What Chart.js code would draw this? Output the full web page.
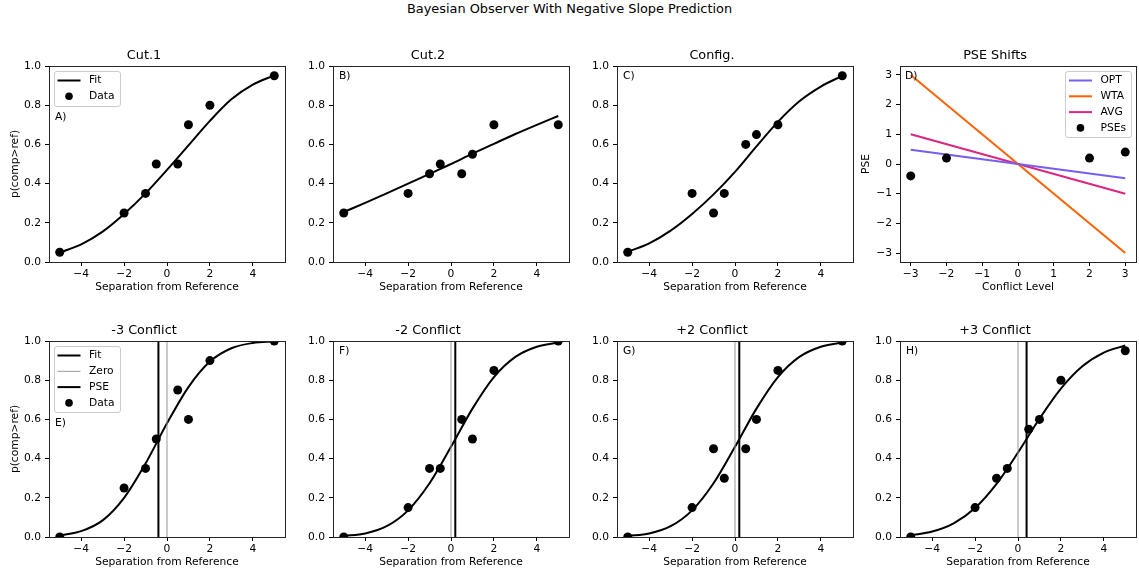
<!DOCTYPE html>
<html>
<head>
<meta charset="utf-8">
<title>Bayesian Observer With Negative Slope Prediction</title>
<script src="https://cdn.jsdelivr.net/npm/chart.js@4.4.1/dist/chart.umd.min.js"></script>
<style>
  body { margin: 0; background: #fff; width: 1139px; height: 573px; overflow: hidden; position: relative; font-family: 'DejaVu Sans', sans-serif; }
  #suptitle { position: absolute; left: 0; top: 1px; width: 1139px; text-align: center; font-size: 12.9px; line-height: 16px; color: #000; }
  canvas { position: absolute; }
</style>
</head>
<body>
<div id="suptitle">Bayesian Observer With Negative Slope Prediction</div>
<script>
// separation levels and the x grid the fitted curves are sampled on
const sepX = [-5, -2, -1, -0.5, 0.5, 1, 2, 5];
const fitX = [-5, -4, -3, -2, -1, 0, 1, 2, 3, 4, 5];
const sepTicks = [-4, -2, 0, 2, 4];
const probTicks = [0, 0.2, 0.4, 0.6, 0.8, 1];
const probRange = [0, 1];

// single-cue and configural conditions
const cut1Data = [0.05, 0.25, 0.35, 0.5, 0.5, 0.7, 0.8, 0.95];
const cut1Fit = [0.048, 0.09, 0.155, 0.245, 0.35, 0.47, 0.595, 0.72, 0.83, 0.905, 0.952];
const cut2Data = [0.25, 0.35, 0.45, 0.5, 0.45, 0.55, 0.7, 0.7];
const cut2Fit = [0.255, 0.302, 0.35, 0.40, 0.45, 0.50, 0.553, 0.603, 0.653, 0.70, 0.745];
const configData = [0.05, 0.35, 0.25, 0.35, 0.6, 0.65, 0.7, 0.95];
const configFit = [0.052, 0.095, 0.16, 0.245, 0.345, 0.46, 0.59, 0.715, 0.82, 0.895, 0.95];

// conflict conditions
const negThreeData = [0.0, 0.25, 0.35, 0.5, 0.75, 0.6, 0.9, 1.0];
const negThreeFit = [0.008, 0.03, 0.085, 0.20, 0.375, 0.58, 0.765, 0.895, 0.963, 0.99, 0.998];
const negTwoData = [0.0, 0.15, 0.35, 0.35, 0.6, 0.5, 0.85, 1.0];
const negTwoFit = [0.005, 0.018, 0.055, 0.136, 0.274, 0.46, 0.655, 0.816, 0.919, 0.971, 0.992];
const posTwoData = [0.0, 0.15, 0.45, 0.3, 0.45, 0.6, 0.85, 1.0];
const posTwoFit = [0.005, 0.018, 0.055, 0.136, 0.274, 0.46, 0.655, 0.816, 0.919, 0.971, 0.992];
const posThreeData = [0.0, 0.15, 0.3, 0.35, 0.55, 0.6, 0.8, 0.95];
const posThreeFit = [0.009, 0.028, 0.07, 0.148, 0.271, 0.431, 0.603, 0.757, 0.871, 0.941, 0.977];

// PSE shifts vs model predictions
const conflictLevels = [-3, -2, 2, 3];
const pseValues = [-0.4, 0.2, 0.2, 0.4];
const modelX = [-3, 3];
const optPred = [0.48, -0.48];
const wtaPred = [3, -3];
const avgPred = [1, -1];
const conflictTicks = [-3, -2, -1, 0, 1, 2, 3];
const pseTicks = [-3, -2, -1, 0, 1, 2, 3];

const FONT = "'DejaVu Sans', sans-serif";
const SMALL = 10.7, BIG = 12.8;
const AX_W = 236, AX_H = 196;
const Y_AXIS_W = 46, X_AXIS_H = 36, TITLE_H = 24, PAD_R = 8;

Chart.defaults.font.family = FONT;
Chart.defaults.font.size = SMALL;
Chart.defaults.color = '#000';
Chart.defaults.animation = false;
Chart.defaults.events = [];
Chart.defaults.plugins.legend.display = false;
Chart.defaults.plugins.tooltip.enabled = false;

const px = v => Math.round(v - 0.5) + 0.5;

// box around the plotting area (all four spines)
Chart.register({
  id: 'axesFrame',
  afterDraw(chart) {
    const { ctx, chartArea: a } = chart;
    ctx.save();
    ctx.strokeStyle = '#262626';
    ctx.lineWidth = 1;
    ctx.strokeRect(px(a.left), px(a.top), px(a.right) - px(a.left), px(a.bottom) - px(a.top));
    ctx.restore();
  }
});

// "A)", "B)" ... letters inside each panel
Chart.register({
  id: 'panelTag',
  afterDraw(chart, args, opts) {
    if (!opts.text) return;
    const { ctx, chartArea: a } = chart;
    ctx.save();
    ctx.font = SMALL + 'px ' + FONT;
    ctx.fillStyle = '#000';
    ctx.textAlign = 'left';
    ctx.textBaseline = 'middle';
    ctx.fillText(opts.text, a.left + opts.dx, a.top + opts.dy);
    ctx.restore();
  }
});

// framed legend in a corner of the plotting area
Chart.register({
  id: 'boxLegend',
  afterDraw(chart, args, opts) {
    if (!opts.corner) return;
    const { ctx, chartArea: a } = chart;
    const items = chart.data.datasets;
    ctx.save();
    ctx.font = SMALL + 'px ' + FONT;
    const textW = Math.max(...items.map(d => ctx.measureText(d.label).width));
    const rowH = 15.8, padY = 9.5, handle = 23;
    const w = 3.5 + handle + 8.5 + textW + 5;
    const h = padY * 2 + rowH * (items.length - 1);
    const x = opts.corner === 'right' ? a.right - 5 - w : a.left + 5;
    const y = a.top + 5;
    ctx.beginPath();
    if (ctx.roundRect) ctx.roundRect(Math.round(x) + 0.5, Math.round(y) + 0.5, Math.round(w), Math.round(h), 2.5);
    else ctx.rect(Math.round(x) + 0.5, Math.round(y) + 0.5, Math.round(w), Math.round(h));
    ctx.fillStyle = 'rgba(255,255,255,0.8)';
    ctx.fill();
    ctx.strokeStyle = '#cccccc';
    ctx.lineWidth = 1;
    ctx.stroke();
    items.forEach((d, i) => {
      const cy = y + padY + i * rowH;
      const hx = x + 3.5;
      if (d.showLine) {
        ctx.beginPath();
        ctx.moveTo(hx, cy);
        ctx.lineTo(hx + handle, cy);
        ctx.strokeStyle = d.borderColor;
        ctx.lineWidth = d.borderWidth;
        ctx.stroke();
      } else {
        ctx.beginPath();
        ctx.arc(hx + handle / 2, cy, 3.8, 0, Math.PI * 2);
        ctx.fillStyle = d.pointBackgroundColor;
        ctx.fill();
      }
      ctx.fillStyle = '#000';
      ctx.textAlign = 'left';
      ctx.textBaseline = 'middle';
      ctx.fillText(d.label, hx + handle + 8.5, cy);
    });
    ctx.restore();
  }
});

const xy = (xs, ys) => xs.map((x, i) => ({ x: x, y: ys[i] }));
const minus = v => (v < 0 ? '\u2212' + (-v) : String(v));

function axis(pos, min, max, ticks, fmt, title) {
  const left = pos === 'left';
  return {
    type: 'linear',
    position: pos,
    min: min,
    max: max,
    afterBuildTicks: s => { s.ticks = ticks.map(v => ({ value: v })); },
    afterFit: s => { if (left) s.width = Y_AXIS_W; else s.height = X_AXIS_H; },
    ticks: { callback: fmt, color: '#000', font: { size: SMALL }, padding: left ? 4 : 2, maxRotation: 0, autoSkip: false },
    grid: { display: true, drawOnChartArea: false, drawTicks: true, tickLength: 4, tickColor: '#000', tickWidth: 1 },
    border: { display: false },
    title: title
      ? { display: true, text: title, color: '#000', font: { size: SMALL }, padding: left ? { top: 5.5, bottom: 0 } : { top: 0, bottom: 4 } }
      : { display: false }
  };
}

function mount(axLeft, axTop, config) {
  const c = document.createElement('canvas');
  c.width = Y_AXIS_W + AX_W + PAD_R;
  c.height = TITLE_H + AX_H + X_AXIS_H;
  c.style.left = (axLeft - Y_AXIS_W) + 'px';
  c.style.top = (axTop - TITLE_H) + 'px';
  document.body.appendChild(c);
  config.options.responsive = false;
  config.options.devicePixelRatio = 1;
  config.options.layout = { padding: { left: 0, right: PAD_R, top: 0, bottom: 0 } };
  config.options.plugins.title = {
    display: true, text: config.title, color: '#000',
    font: { size: BIG, weight: 'normal', lineHeight: 1.25 }, padding: { top: 6, bottom: 2 }
  };
  return new Chart(c, config);
}

function sepPanel(p) {
  const datasets = [{
    label: 'Fit', data: xy(fitX, p.fit), showLine: true, borderColor: '#000', borderWidth: 2,
    pointRadius: 0, cubicInterpolationMode: 'monotone', clip: 0, order: 3
  }];
  if (p.pse !== undefined) {
    datasets.push({
      label: 'Zero', data: xy([0, 0], probRange), showLine: true, borderColor: '#999999', borderWidth: 1,
      pointRadius: 0, clip: 0, order: 2
    });
    datasets.push({
      label: 'PSE', data: xy([p.pse, p.pse], probRange), showLine: true, borderColor: '#000', borderWidth: 2,
      pointRadius: 0, clip: 0, order: 1
    });
  }
  datasets.push({
    label: 'Data', data: xy(sepX, p.data), pointRadius: 4.5, pointBackgroundColor: '#000',
    pointBorderWidth: 0, clip: 0, order: 0
  });
  mount(p.left, p.top, {
    type: 'scatter',
    title: p.title,
    data: { datasets: datasets },
    options: {
      scales: {
        x: axis('bottom', -5.5, 5.5, sepTicks, minus, 'Separation from Reference'),
        y: axis('left', 0, 1, probTicks, v => v.toFixed(1), p.yTitle ? 'p(comp>ref)' : null)
      },
      plugins: {
        panelTag: { text: p.tag, dx: 6, dy: p.tagDy },
        boxLegend: { corner: p.legend }
      }
    }
  });
}

const colLeft = [49, 333, 617, 900];
const rowTop = [66, 341];

sepPanel({ title: 'Cut.1', tag: 'A)', tagDy: 51, left: colLeft[0], top: rowTop[0], data: cut1Data, fit: cut1Fit, yTitle: true, legend: 'left' });
sepPanel({ title: 'Cut.2', tag: 'B)', tagDy: 10, left: colLeft[1], top: rowTop[0], data: cut2Data, fit: cut2Fit });
sepPanel({ title: 'Config.', tag: 'C)', tagDy: 10, left: colLeft[2], top: rowTop[0], data: configData, fit: configFit });

sepPanel({ title: '-3 Conflict', tag: 'E)', tagDy: 82, left: colLeft[0], top: rowTop[1], data: negThreeData, fit: negThreeFit, pse: pseValues[0], yTitle: true, legend: 'left' });
sepPanel({ title: '-2 Conflict', tag: 'F)', tagDy: 10, left: colLeft[1], top: rowTop[1], data: negTwoData, fit: negTwoFit, pse: pseValues[1] });
sepPanel({ title: '+2 Conflict', tag: 'G)', tagDy: 10, left: colLeft[2], top: rowTop[1], data: posTwoData, fit: posTwoFit, pse: pseValues[2] });
sepPanel({ title: '+3 Conflict', tag: 'H)', tagDy: 10, left: colLeft[3], top: rowTop[1], data: posThreeData, fit: posThreeFit, pse: pseValues[3] });

// PSE shifts panel
const modelLine = (label, ys, color) => ({
  label: label, data: xy(modelX, ys), showLine: true, borderColor: color, borderWidth: 2,
  pointRadius: 0, clip: 0, order: 1
});
mount(colLeft[3], rowTop[0], {
  type: 'scatter',
  title: 'PSE Shifts',
  data: {
    datasets: [
      modelLine('OPT', optPred, '#785EF0'),
      modelLine('WTA', wtaPred, '#FE6100'),
      modelLine('AVG', avgPred, '#DC267F'),
      { label: 'PSEs', data: xy(conflictLevels, pseValues), pointRadius: 4.5, pointBackgroundColor: '#000', pointBorderWidth: 0, clip: 0, order: 0 }
    ]
  },
  options: {
    scales: {
      x: axis('bottom', -3.3, 3.3, conflictTicks, minus, 'Conflict Level'),
      y: axis('left', -3.3, 3.3, pseTicks, minus, 'PSE')
    },
    plugins: {
      panelTag: { text: 'D)', dx: 5, dy: 10 },
      boxLegend: { corner: 'right' }
    }
  }
});
</script>
</body>
</html>
